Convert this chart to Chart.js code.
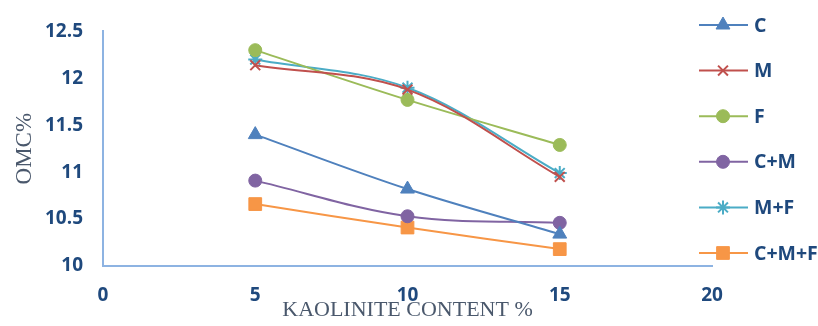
<!DOCTYPE html>
<html>
<head>
<meta charset="utf-8">
<script src="https://cdn.jsdelivr.net/npm/chart.js@4/dist/chart.umd.min.js"></script>
<style>
  html, body { margin: 0; padding: 0; background: #ffffff; }
  #wrap { width: 818px; height: 326px; position: relative; }
</style>
</head>
<body>
<div id="wrap"><canvas id="chart" width="818" height="326"></canvas></div>
<script>
// Kaolinite content (%) on the x axis
const kaolinite = [5, 10, 15];

// Optimum moisture content (%) for each stabiliser mix
const seriesNames = ['C', 'M', 'F', 'C+M', 'M+F', 'C+M+F'];
const omcC    = [11.40, 10.82, 10.34];
const omcM    = [12.14, 11.88, 10.95];
const omcF    = [12.30, 11.77, 11.29];
const omcCM   = [10.91, 10.53, 10.46];
const omcMF   = [12.20, 11.90, 10.99];
const omcCMF  = [10.66, 10.41, 10.18];

const xTicks = [0, 5, 10, 15, 20];
const yTicks = [10, 10.5, 11, 11.5, 12, 12.5];

const seriesValues = [omcC, omcM, omcF, omcCM, omcMF, omcCMF];
const seriesColors = ['#4F81BD', '#C0504D', '#9BBB59', '#8064A2', '#4BACC6', '#F79646'];
const seriesMarkers = ['triangle', 'crossRot', 'circle', 'circle', 'star', 'rect'];
const markerSizes = [8, 7, 6.5, 6.5, 7, 9];

const tickColor = '#1F497D';
const titleColor = '#4A586C';
const axisColor = '#8DB3E2';
const tickFont = { family: 'Open Sans', weight: 'bold', size: 19 };

const datasets = seriesNames.map((name, i) => ({
  label: name,
  data: kaolinite.map((x, j) => ({ x: x, y: seriesValues[i][j] })),
  borderColor: seriesColors[i],
  backgroundColor: seriesColors[i],
  pointBackgroundColor: seriesColors[i],
  pointBorderColor: seriesColors[i],
  pointStyle: seriesMarkers[i],
  pointRadius: markerSizes[i],
  pointBorderWidth: (seriesMarkers[i] === 'crossRot' || seriesMarkers[i] === 'star') ? 2 : 1,
  borderWidth: 2,
  tension: 0.35,
  fill: false
}));

// Vertical legend on the right: short line with the series marker, then the name
const sideLegend = {
  id: 'sideLegend',
  afterDraw(chart) {
    const ctx = chart.ctx;
    const x0 = 699, x1 = 748, xm = 723, xt = 754;
    const yStart = 25, step = 45.6;
    ctx.save();
    chart.data.datasets.forEach((ds, i) => {
      const y = yStart + i * step;
      ctx.strokeStyle = ds.borderColor;
      ctx.lineWidth = 2;
      ctx.beginPath();
      ctx.moveTo(x0, y);
      ctx.lineTo(x1, y);
      ctx.stroke();
      ctx.fillStyle = ds.pointBackgroundColor;
      ctx.strokeStyle = ds.pointBorderColor;
      ctx.lineWidth = ds.pointBorderWidth;
      Chart.helpers.drawPoint(ctx, {
        pointStyle: ds.pointStyle,
        radius: ds.pointRadius,
        rotation: 0,
        borderWidth: ds.pointBorderWidth
      }, xm, y);
      ctx.fillStyle = tickColor;
      ctx.font = 'bold 19.5px "Open Sans"';
      ctx.textAlign = 'left';
      ctx.textBaseline = 'middle';
      ctx.fillText(ds.label, xt, y + 1);
    });
    ctx.restore();
  }
};

new Chart(document.getElementById('chart'), {
  type: 'line',
  data: { datasets: datasets },
  options: {
    responsive: false,
    animation: false,
    layout: { padding: { left: 0, right: 106, top: 16, bottom: 0 } },
    plugins: { legend: { display: false }, tooltip: { enabled: false } },
    scales: {
      x: {
        type: 'linear',
        min: 0, max: 20,
        afterBuildTicks(scale) { scale.ticks = xTicks.map(v => ({ value: v })); },
        afterFit(scale) { scale.height = 60; },
        grid: { display: false, drawTicks: false },
        border: { display: true, color: axisColor, width: 2 },
        ticks: { color: tickColor, font: tickFont, padding: 18, callback: v => String(v) },
        title: {
          display: true, text: 'KAOLINITE CONTENT %', color: titleColor,
          font: { family: 'Liberation Serif', size: 22 }, padding: { top: 0, bottom: 3 }
        }
      },
      y: {
        type: 'linear',
        min: 10, max: 12.5,
        afterBuildTicks(scale) { scale.ticks = yTicks.map(v => ({ value: v })); },
        afterFit(scale) { scale.width = 103; },
        grid: { display: false, drawTicks: false },
        border: { display: true, color: axisColor, width: 2 },
        ticks: { color: tickColor, font: tickFont, padding: 20, callback: v => String(v) },
        title: {
          display: true, text: 'OMC%', color: titleColor,
          font: { family: 'Liberation Serif', size: 23 }, padding: { top: 11, bottom: 0 }
        }
      }
    }
  },
  plugins: [sideLegend]
});
</script>
</body>
</html>
